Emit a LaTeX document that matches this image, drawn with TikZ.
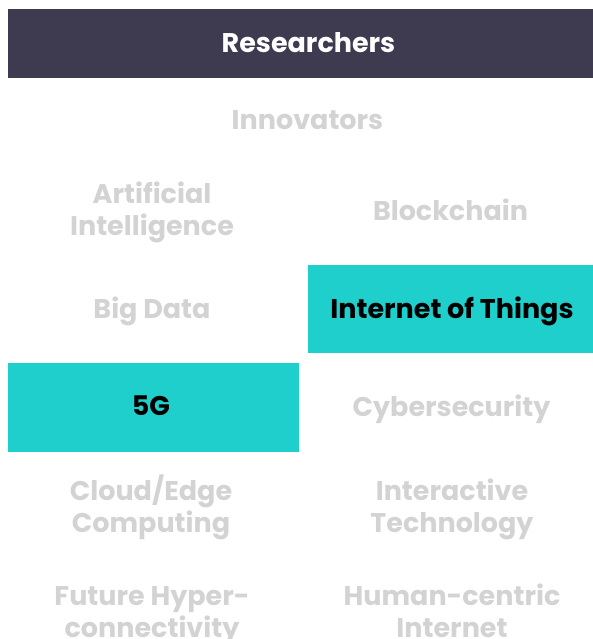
\documentclass[tikz,border=0pt]{standalone}
\usepackage{fontspec}
\setmainfont{Poppins}
\definecolor{hdr}{HTML}{3E3A50}
\definecolor{teal}{HTML}{1FCFCB}
\definecolor{lgray}{HTML}{D3D3D3}
\begin{document}
\begin{tikzpicture}[x=1pt,y=-1pt,
  every node/.style={inner sep=0pt,outer sep=0pt,font=\fontsize{27}{32}\selectfont\bfseries,align=center},
  dim/.style={text=lgray,anchor=base},
  box/.style={fill=teal,text=black},
  hbox/.style={fill=hdr,text=white}]
\useasboundingbox (0,0) rectangle (593,639);
\node[hbox,minimum width=585pt,minimum height=68.5pt] (res) at (300.5,43.3) {};
\node[text=white,anchor=base] (rest) at (308.5,52.3) {Researchers};
\node[dim] (inn) at (307.5,130) {Innovators};
\node[dim] (ai) at (152,235) {Artificial\\Intelligence};
\node[dim] (bc) at (450.5,220) {Blockchain};
\node[dim] (bd) at (152,318.3) {Big Data};
\node[box,minimum width=285pt,minimum height=88pt] (iot) at (450.5,309) {};
\node[anchor=base] (iott) at (452,318.3) {Internet of Things};
\node[box,minimum width=290.7pt,minimum height=88.7pt] (fg) at (153.35,407.35) {};
\node[anchor=base] (fgt) at (151,415.7) {5G};
\node[dim] (cy) at (451.5,416) {Cybersecurity};
\node[dim] (ce) at (151,532) {Cloud/Edge\\Computing};
\node[dim] (it) at (452,532) {Interactive\\Technology};
\node[dim] (fh) at (152,637) {Future Hyper-\\connectivity};
\node[dim] (hc) at (452,637) {Human-centric\\Internet};
\end{tikzpicture}
\end{document}
